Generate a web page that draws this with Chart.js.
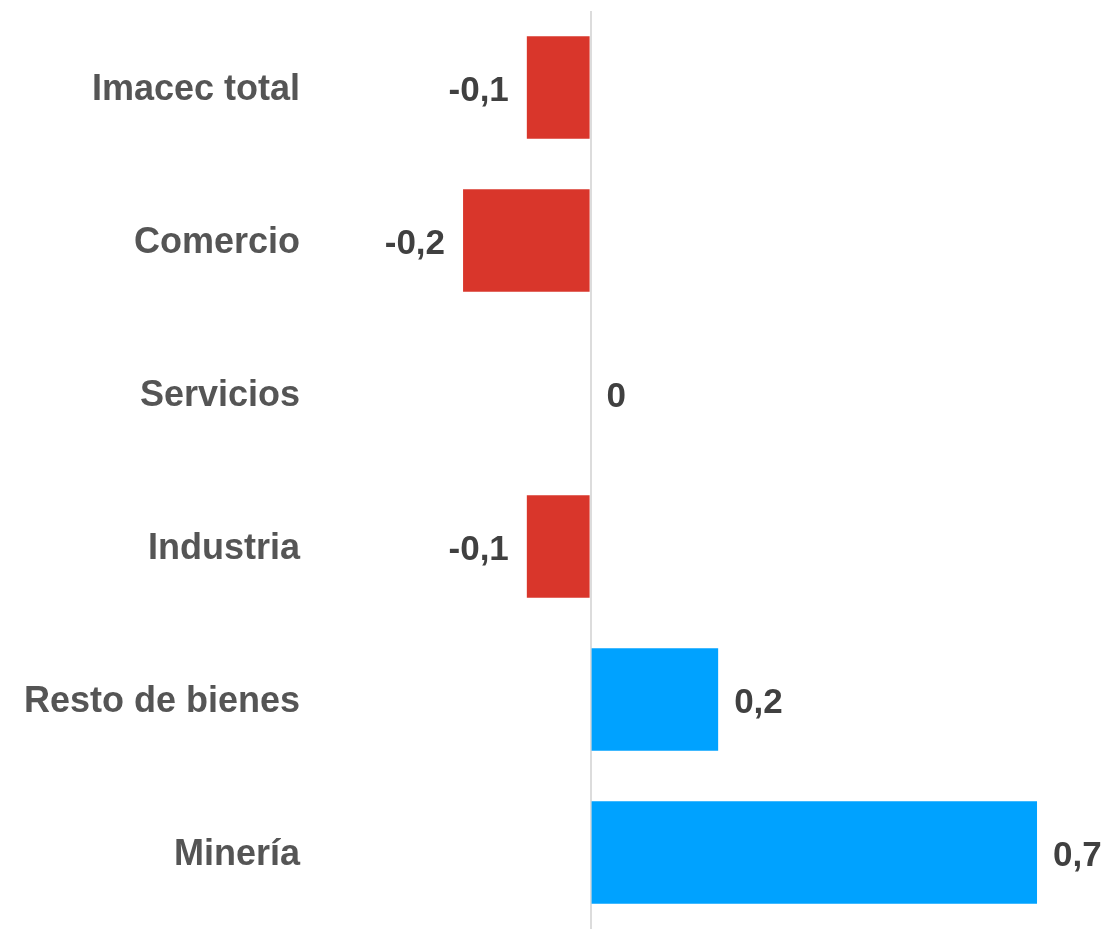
<!DOCTYPE html>
<html>
<head>
<meta charset="utf-8">
<script src="https://cdn.jsdelivr.net/npm/chart.js@4"></script>
<style>
  html, body { margin: 0; padding: 0; background: #fff; }
  #wrap { width: 1111px; height: 929px; position: relative; }
</style>
</head>
<body>
<div id="wrap"><canvas id="incidencia-chart"></canvas></div>
<script>

    var categorias = ['Imacec total', 'Comercio', 'Servicios', 'Industria', 'Resto de bienes', 'Minería'];
    var valores = [-0.1, -0.2, 0, -0.1, 0.2, 0.7];
    var etiquetas = ['-0,1', '-0,2', '0', '-0,1', '0,2', '0,7'];

    var ROJO = '#d9362b';
    var AZUL = '#00a2ff';
    var FUENTE = '"Liberation Sans", Arial, Helvetica, sans-serif';

    // etiquetas de valor al lado de cada barra
    var valueLabels = {
        id: 'valueLabels',
        afterDatasetsDraw: function(chart) {
            var ctx = chart.ctx;
            var meta = chart.getDatasetMeta(0);
            ctx.save();
            ctx.font = 'bold 35px ' + FUENTE;
            ctx.fillStyle = '#404040';
            ctx.textBaseline = 'middle';
            meta.data.forEach(function(bar, i) {
                var v = valores[i];
                if (v < 0) {
                    ctx.textAlign = 'right';
                    ctx.fillText(etiquetas[i], bar.x - 18, bar.y + 4);
                } else {
                    ctx.textAlign = 'left';
                    ctx.fillText(etiquetas[i], bar.x + 16, bar.y + 4);
                }
            });
            ctx.restore();
        }
    };

    var incidencia = {
        type: 'bar',
        data: {
            labels: categorias,
            datasets: [{
                data: valores,
                backgroundColor: valores.map(function(v) { return v < 0 ? ROJO : AZUL; }),
                borderWidth: 0,
                categoryPercentage: 1,
                barPercentage: 0.67
            }]
        },
        options: {
            indexAxis: 'y',
            responsive: true,
            maintainAspectRatio: false,
            animation: false,
            layout: { padding: { top: 11, right: 0, bottom: 0, left: 0 } },
            plugins: {
                legend: { display: false },
                tooltip: { enabled: false }
            },
            scales: {
                x: {
                    min: -0.44,
                    max: 0.816,
                    ticks: { display: false, stepSize: 0.1 },
                    border: { display: false },
                    grid: {
                        drawTicks: false,
                        lineWidth: 2,
                        color: function(c) {
                            return (c.tick && Math.abs(c.tick.value) < 1e-9) ? '#dcdcdc' : 'rgba(0,0,0,0)';
                        }
                    },
                    afterFit: function(scale) {
                        scale.height = 0;
                        scale.paddingLeft = 0;
                        scale.paddingRight = 0;
                    }
                },
                y: {
                    border: { display: false },
                    grid: { display: false, drawTicks: false },
                    ticks: {
                        padding: 10,
                        labelOffset: 3,
                        color: '#555555',
                        font: { family: FUENTE, size: 36, weight: 'bold' }
                    },
                    afterFit: function(scale) {
                        scale.width = 310;
                        scale.paddingTop = 0;
                        scale.paddingBottom = 0;
                    }
                }
            }
        },
        plugins: [valueLabels]
    };

    window.onload = function() {
        var ctx_w = document.getElementById('incidencia-chart').getContext('2d');
        window.myBar = new Chart(ctx_w, incidencia);
    };

</script>
</body>
</html>
